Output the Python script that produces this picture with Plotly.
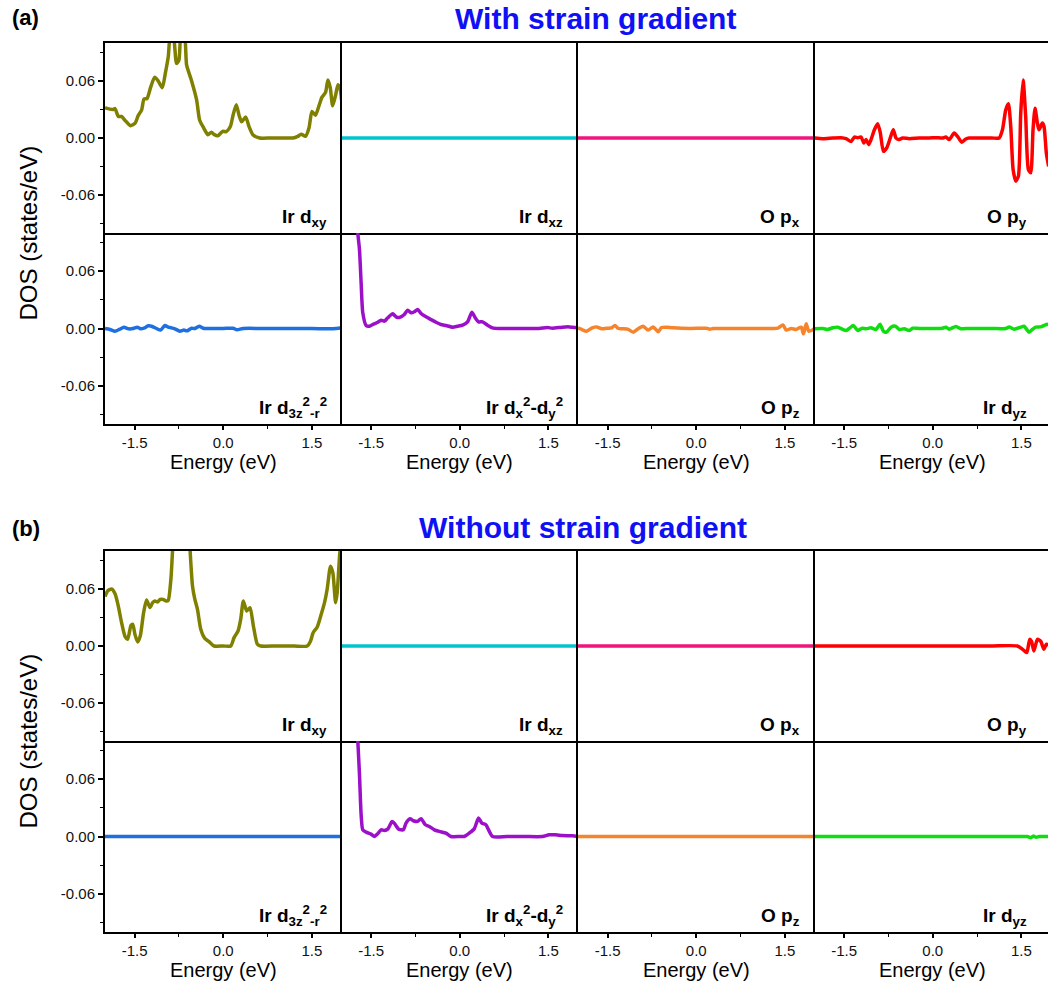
import plotly.graph_objects as go

# ---------------- projected DOS data (energy in eV, DOS in states/eV) ----------------
FLAT_E = [-2.0, -1.0, 0.0, 1.0, 2.0]
FLAT_DOS = [0.0, 0.0, 0.0, 0.0, 0.0]

# (a) with strain gradient
E_A_DXY = [-2.0, -1.98, -1.86, -1.83, -1.775, -1.72, -1.66, -1.57, -1.49, -1.44, -1.38, -1.34,
           -1.29, -1.23, -1.16, -1.10, -1.03, -0.98, -0.93, -0.89, -0.85, -0.79, -0.75, -0.71,
           -0.66, -0.62, -0.54, -0.45, -0.40, -0.33, -0.26, -0.20, -0.15, -0.09, -0.01, 0.05,
           0.12, 0.166, 0.22, 0.267, 0.31, 0.38, 0.436, 0.50, 0.616, 0.8, 1.0, 1.18, 1.26,
           1.32, 1.39, 1.45, 1.50, 1.56, 1.62, 1.67, 1.73, 1.77, 1.81, 1.85, 1.90, 1.94, 1.98,
           2.0]
DOS_A_DXY = [0.032, 0.0314, 0.030, 0.031, 0.0227, 0.0227, 0.0185, 0.013, 0.0157, 0.0234, 0.0297,
             0.041, 0.0415, 0.053, 0.064, 0.060, 0.053, 0.068, 0.0855, 0.11, 0.11, 0.0785, 0.082,
             0.11, 0.11, 0.077, 0.061, 0.040, 0.019, 0.0105, 0.0035, 0.006, 0.0035, 0.0024,
             0.007, 0.0066, 0.012, 0.024, 0.035, 0.024, 0.017, 0.022, 0.012, 0.0035, 0.0, 0.0,
             0.0, 0.0, 0.0017, 0.004, 0.0017, 0.0105, 0.028, 0.024, 0.034, 0.043, 0.048, 0.061,
             0.053, 0.034, 0.045, 0.056, 0.051, 0.040]

E_A_PY = [-2.0, -1.859, -1.69, -1.55, -1.466, -1.381, -1.325, -1.269, -1.212, -1.167, -1.128,
          -1.083, -1.044, -0.987, -0.931, -0.886, -0.835, -0.779, -0.706, -0.667, -0.622,
          -0.577, -0.509, -0.397, -0.228, -0.059, 0.053, 0.166, 0.222, 0.278, 0.363, 0.419,
          0.492, 0.560, 0.616, 0.8, 1.0, 1.122, 1.179, 1.235, 1.28, 1.319, 1.359, 1.404, 1.449,
          1.488, 1.528, 1.572, 1.617, 1.657, 1.696, 1.73, 1.77, 1.797, 1.854, 1.882, 1.921,
          1.96]
DOS_A_PY = [0.0, -0.0007, 0.0, 0.00035, -0.0007, -0.0038, 0.001, 0.0003, 0.001, -0.0052, -0.0017,
            -0.007, -0.0017, 0.0087, 0.0150, 0.0052, -0.014, -0.0105, 0.0024, 0.0087, 0.0,
            -0.0017, 0.0, -0.0007, 0.0, 0.0, 0.0003, 0.0, 0.001, -0.0017, 0.0052, 0.0017,
            -0.0045, -0.001, 0.0, 0.0, 0.0, 0.0, 0.0087, 0.0297, 0.036, 0.0122, -0.0331, -0.0454,
            -0.0401, 0.0262, 0.0611, 0.0227, -0.0331, -0.0366, 0.0087, 0.0314, 0.0157, 0.0087,
            0.0157, 0.0122, -0.0157, -0.03]

E_A_D3Z2 = [-2.0, -1.916, -1.831, -1.758, -1.679, -1.606, -1.522, -1.454, -1.398, -1.342, -1.269,
            -1.212, -1.128, -1.06, -0.987, -0.931, -0.875, -0.819, -0.734, -0.667, -0.61,
            -0.537, -0.481, -0.408, -0.34, -0.228, 0.0, 0.166, 0.233, 0.335, 0.7, 1.1, 1.5,
            1.854, 2.0]
DOS_A_D3Z2 = [0.0, -0.001, -0.0028, -0.001, 0.0014, -0.0003, 0.0, 0.0014, -0.0003, 0.0003,
              0.0028, 0.0024, 0.0, -0.0017, 0.0031, 0.0014, 0.0007, -0.0003, -0.0028, -0.0017,
              -0.0024, 0.0003, 0.0, 0.0024, 0.0003, 0.0, 0.0, 0.0003, -0.0014, 0.0, 0.0, 0.0,
              0.0, -0.0003, 0.0007]

E_A_DX2Y2 = [-1.76, -1.724, -1.696, -1.668, -1.64, -1.584, -1.527, -1.471, -1.387, -1.331,
             -1.274, -1.218, -1.134, -1.077, -1.021, -0.937, -0.88, -0.824, -0.768, -0.712,
             -0.655, -0.571, -0.487, -0.402, -0.318, -0.233, -0.121, -0.037, 0.048, 0.132,
             0.205, 0.262, 0.318, 0.385, 0.47, 0.554, 0.667, 0.9, 1.1, 1.342, 1.482, 1.567,
             1.736, 1.848, 2.0]
DOS_A_DX2Y2 = [0.14, 0.10, 0.0827, 0.0478, 0.0164, 0.0031, 0.0024, 0.0042, 0.0066, 0.0087,
               0.0077, 0.0112, 0.0154, 0.0122, 0.0115, 0.0147, 0.0192, 0.0164, 0.0175, 0.0199,
               0.0157, 0.0122, 0.0094, 0.0066, 0.0042, 0.0031, 0.0014, 0.0024, 0.0035, 0.007,
               0.0171, 0.0112, 0.007, 0.007, 0.0035, 0.0007, 0.0, 0.0, 0.0, 0.0, 0.001, 0.0003,
               0.0014, 0.0017, 0.0007]

E_A_PZ = [-2.0, -1.938, -1.854, -1.769, -1.685, -1.601, -1.516, -1.432, -1.376, -1.319, -1.235,
          -1.15, -1.066, -0.982, -0.897, -0.813, -0.729, -0.644, -0.588, -0.504, -0.391, -0.1,
          0.172, 0.228, 0.284, 0.6, 0.9, 1.297, 1.381, 1.466, 1.522, 1.606, 1.69, 1.775, 1.814,
          1.859, 1.904, 1.961, 2.0]
DOS_A_PZ = [0.0007, -0.001, -0.0028, 0.0003, 0.0017, -0.0003, 0.0003, 0.0007, 0.0031, 0.0,
            -0.0003, -0.001, -0.0038, -0.0003, 0.0024, -0.0017, 0.0017, -0.0035, 0.001, 0.0014,
            0.0007, 0.0, 0.0003, -0.0007, 0.0, 0.0, 0.0, 0.0, 0.0003, 0.0038, -0.0017, 0.0,
            -0.001, 0.0014, -0.0056, 0.0049, -0.0028, -0.0017, -0.0003]

E_A_DYZ = [-2.0, -1.859, -1.775, -1.691, -1.606, -1.522, -1.466, -1.409, -1.342, -1.269,
           -1.195, -1.128, -1.044, -0.959, -0.892, -0.835, -0.779, -0.706, -0.633, -0.565,
           -0.481, -0.397, -0.34, -0.228, 0.0, 0.166, 0.222, 0.278, 0.391, 0.475, 0.56, 0.8,
           1.0, 1.235, 1.291, 1.376, 1.488, 1.544, 1.629, 1.685, 1.741, 1.826, 1.921, 2.0]
DOS_A_DYZ = [-0.0003, 0.0, -0.001, 0.0007, 0.0014, -0.001, -0.0021, 0.0003, 0.0031, -0.0021,
             0.0003, -0.0003, 0.0007, -0.001, 0.0045, -0.0028, -0.0038, 0.0014, 0.0024, -0.001,
             -0.0003, -0.0021, 0.0003, 0.0, 0.0, 0.0003, 0.0014, -0.0007, 0.0021, -0.0003, 0.0,
             0.0, 0.0, 0.0, 0.0017, -0.0007, 0.0014, 0.0024, -0.0038, -0.001, 0.0014, 0.0017,
             0.0042, 0.005]

# (b) without strain gradient
E_B_DXY = [-2.0, -1.955, -1.888, -1.83, -1.775, -1.72, -1.66, -1.617, -1.56, -1.53, -1.494,
           -1.449, -1.404, -1.347, -1.297, -1.24, -1.195, -1.156, -1.11, -1.066, -1.015,
           -0.965, -0.931, -0.886, -0.858, -0.83, -0.70, -0.59, -0.56, -0.52, -0.48, -0.436,
           -0.38, -0.312, -0.24, -0.155, 0.0, 0.127, 0.183, 0.25, 0.295, 0.34, 0.397, 0.453,
           0.51, 0.577, 0.633, 0.9, 1.2, 1.42, 1.477, 1.52, 1.59, 1.657, 1.713, 1.758, 1.814,
           1.854, 1.9, 1.927, 1.972, 2.0]
DOS_B_DXY = [0.052, 0.058, 0.060, 0.055, 0.042, 0.0246, 0.0098, 0.007, 0.0218, 0.0228, 0.0123,
             0.0042, 0.0105, 0.0351, 0.0484, 0.0404, 0.0456, 0.0474, 0.0463, 0.049, 0.049,
             0.0474, 0.048, 0.070, 0.10, 0.14, 0.16, 0.14, 0.10, 0.063, 0.049, 0.0386, 0.0176,
             0.008, 0.0046, 0.0, 0.0, 0.0, 0.0088, 0.0158, 0.028, 0.0474, 0.0369, 0.0404, 0.021,
             0.0018, 0.0, 0.0, 0.0, 0.0, 0.0053, 0.014, 0.020, 0.0333, 0.0456, 0.060, 0.084,
             0.077, 0.0456, 0.056, 0.098, 0.11]

E_B_PY = [-2.0, -1.5, -1.0, -0.5, 0.0, 0.5, 1.0, 1.43, 1.52, 1.59, 1.64, 1.67, 1.71, 1.77,
          1.826, 1.88, 1.92, 2.0]
DOS_B_PY = [0.0, 0.0, 0.0, 0.0, 0.0, 0.0, 0.0, 0.0, -0.0035, -0.007, 0.007, 0.005, -0.0053,
            0.007, 0.005, -0.0035, 0.0018, 0.0]

E_B_DX2Y2 = [-1.76, -1.724, -1.696, -1.668, -1.64, -1.584, -1.5, -1.443, -1.387, -1.331,
             -1.274, -1.218, -1.145, -1.105, -1.032, -0.954, -0.909, -0.841, -0.785, -0.712,
             -0.655, -0.582, -0.515, -0.43, -0.346, -0.233, -0.149, 0.0, 0.076, 0.16, 0.245,
             0.318, 0.374, 0.442, 0.487, 0.554, 0.8, 1.1, 1.398, 1.51, 1.62, 1.736, 1.904, 2.0]
DOS_B_DX2Y2 = [0.14, 0.10, 0.065, 0.0228, 0.007, 0.0046, 0.0025, 0.0, 0.0028, 0.007, 0.0063,
               0.0077, 0.0158, 0.0137, 0.0077, 0.007, 0.014, 0.0186, 0.0165, 0.0158, 0.0186,
               0.0123, 0.0105, 0.007, 0.0053, 0.0035, 0.0, 0.0, 0.0, 0.0035, 0.008, 0.0193,
               0.014, 0.0123, 0.007, 0.0, 0.0, 0.0, 0.0, 0.0018, 0.0018, 0.001, 0.0007, 0.0]

E_B_DYZ = [-2.0, -1.5, -1.0, -0.5, 0.0, 0.5, 1.0, 1.4, 1.60, 1.66, 1.70, 1.75, 1.80, 1.9, 2.0]
DOS_B_DYZ = [0.0, 0.0, 0.0, 0.0, 0.0, 0.0, 0.0, 0.0, 0.0, -0.0012, 0.0004, -0.0008, 0.0, 0.0,
             0.0]

# panel labels, colours and tick labels
LABELS = ["Ir d<sub>xy</sub>", "Ir d<sub>xz</sub>", "O p<sub>x</sub>", "O p<sub>y</sub>",
          "Ir d<sub>3z</sub><sup>2</sup><sub>-r</sub><sup>2</sup>",
          "Ir d<sub>x</sub><sup>2</sup>-d<sub>y</sub><sup>2</sup>",
          "O p<sub>z</sub>", "Ir d<sub>yz</sub>"]
COLORS = ["#808000", "#00c5cc", "#f0147c", "#ff0000",
          "#1f6fe0", "#9b10c8", "#f5842c", "#10dd10"]
X_TICKS = [-1.5, 0.0, 1.5]
X_TICKTEXT = ["-1.5", "0.0", "1.5"]
Y_TICKS = [-0.06, 0.0, 0.06]
Y_TICKTEXT = ["-0.06", "0.00", "0.06"]

PANEL_A = [(E_A_DXY, DOS_A_DXY), (FLAT_E, FLAT_DOS), (FLAT_E, FLAT_DOS), (E_A_PY, DOS_A_PY),
           (E_A_D3Z2, DOS_A_D3Z2), (E_A_DX2Y2, DOS_A_DX2Y2), (E_A_PZ, DOS_A_PZ),
           (E_A_DYZ, DOS_A_DYZ)]
PANEL_B = [(E_B_DXY, DOS_B_DXY), (FLAT_E, FLAT_DOS), (FLAT_E, FLAT_DOS), (E_B_PY, DOS_B_PY),
           (FLAT_E, FLAT_DOS), (E_B_DX2Y2, DOS_B_DX2Y2), (FLAT_E, FLAT_DOS),
           (E_B_DYZ, DOS_B_DYZ)]

# ---------------- layout geometry (pixels) ----------------
W, H = 1048, 986
COL_EDGES = [105, 341.5, 578, 814.5, 1048]
PX_PER_EV = 236.5 / 4.0
ROWS_A = [(43, 233), (233, 424)]
ROWS_B = [(551, 741), (741, 932)]
FONT = "Arial, Liberation Sans, sans-serif"


def fx(p):
    return p / W


def fy(p):
    return 1 - p / H


fig = go.Figure()
layout = dict(
    width=W, height=H, margin=dict(l=0, r=0, t=0, b=0),
    paper_bgcolor="white", plot_bgcolor="white", showlegend=False,
    font=dict(family=FONT, color="#111", size=16),
)
annotations = []
n = 0
for rows, panel in ((ROWS_A, PANEL_A), (ROWS_B, PANEL_B)):
    for r, (top, bot) in enumerate(rows):
        for c in range(4):
            idx = r * 4 + c
            n += 1
            xa = "xaxis" if n == 1 else f"xaxis{n}"
            ya = "yaxis" if n == 1 else f"yaxis{n}"
            xr = "x" if n == 1 else f"x{n}"
            yr = "y" if n == 1 else f"y{n}"
            x0, x1 = COL_EDGES[c], COL_EDGES[c + 1]
            xmax = -2.0 + (x1 - x0) / PX_PER_EV
            e, d = panel[idx]
            fig.add_trace(go.Scatter(
                x=e, y=d, mode="lines", xaxis=xr, yaxis=yr, hoverinfo="skip",
                line=dict(color=COLORS[idx], width=3.5, shape="spline", smoothing=0.6)))
            bottom_row = (r == 1)
            # frame: top row draws its top edge, every panel draws its bottom edge
            layout[xa] = dict(
                domain=[fx(x0), fx(x1)], anchor=yr, range=[-2.0, xmax],
                showgrid=False, zeroline=False, showline=True, linecolor="black",
                linewidth=2, mirror=(not bottom_row),
                ticks="outside" if bottom_row else "", ticklen=4, tickwidth=1.5,
                tickcolor="black",
                tickvals=X_TICKS, ticktext=X_TICKTEXT, showticklabels=bottom_row,
                tickfont=dict(size=15, family=FONT, color="#111"),
                minor=dict(tickvals=[-0.75, 0.75], ticks="outside" if bottom_row else "",
                           ticklen=3, tickwidth=1.2, tickcolor="black"),
            )
            first_col = (c == 0)
            # each panel draws only its left edge; neighbours close the frame
            layout[ya] = dict(
                domain=[fy(bot), fy(top)], anchor=xr, range=[-0.1, 0.1],
                showgrid=False, zeroline=False, showline=True, linecolor="black",
                linewidth=2, mirror=False,
                ticks="outside" if first_col else "", ticklen=5, tickwidth=1.5,
                tickcolor="black",
                tickvals=Y_TICKS, ticktext=Y_TICKTEXT, showticklabels=first_col,
                tickfont=dict(size=15, family=FONT, color="#111"),
                minor=dict(tickvals=[-0.09, -0.03, 0.03, 0.09],
                           ticks="outside" if first_col else "",
                           ticklen=3, tickwidth=1.2, tickcolor="black"),
            )
            # orbital label in the lower-right corner
            annotations.append(dict(
                text=f"<b>{LABELS[idx]}</b>", xref="paper", yref="paper",
                x=fx(min(x1, 1042) - 13), y=fy(bot - 1), xanchor="right", yanchor="bottom",
                showarrow=False, font=dict(size=19, family=FONT, color="black")))
            if bottom_row:
                annotations.append(dict(
                    text="Energy (eV)", xref="paper", yref="paper",
                    x=fx((x0 + x0 + 236.5) / 2), y=fy(bot + 38), xanchor="center",
                    yanchor="middle", showarrow=False,
                    font=dict(size=20, family=FONT, color="black")))
    # y-axis title spanning both rows
    annotations.append(dict(
        text="DOS (states/eV)", xref="paper", yref="paper", x=fx(28),
        y=fy((rows[0][0] + rows[1][1]) / 2), xanchor="center", yanchor="middle",
        textangle=-90, showarrow=False, font=dict(size=24, family=FONT, color="black")))

# panel headings
annotations += [
    dict(text="<b>(a)</b>", xref="paper", yref="paper", x=fx(10), y=fy(18), xanchor="left",
         yanchor="middle", showarrow=False, font=dict(size=22, family=FONT, color="black")),
    dict(text="<b>With strain gradient</b>", xref="paper", yref="paper", x=fx(595), y=fy(19),
         xanchor="center", yanchor="middle", showarrow=False,
         font=dict(size=30, family=FONT, color="#1010f5")),
    dict(text="<b>(b)</b>", xref="paper", yref="paper", x=fx(10), y=fy(528), xanchor="left",
         yanchor="middle", showarrow=False, font=dict(size=22, family=FONT, color="black")),
    dict(text="<b>Without strain gradient</b>", xref="paper", yref="paper", x=fx(583),
         y=fy(527), xanchor="center", yanchor="middle", showarrow=False,
         font=dict(size=30, family=FONT, color="#1010f5")),
]
layout["annotations"] = annotations
fig.update_layout(**layout)
fig.write_html("out.html", config={"displayModeBar": False})
